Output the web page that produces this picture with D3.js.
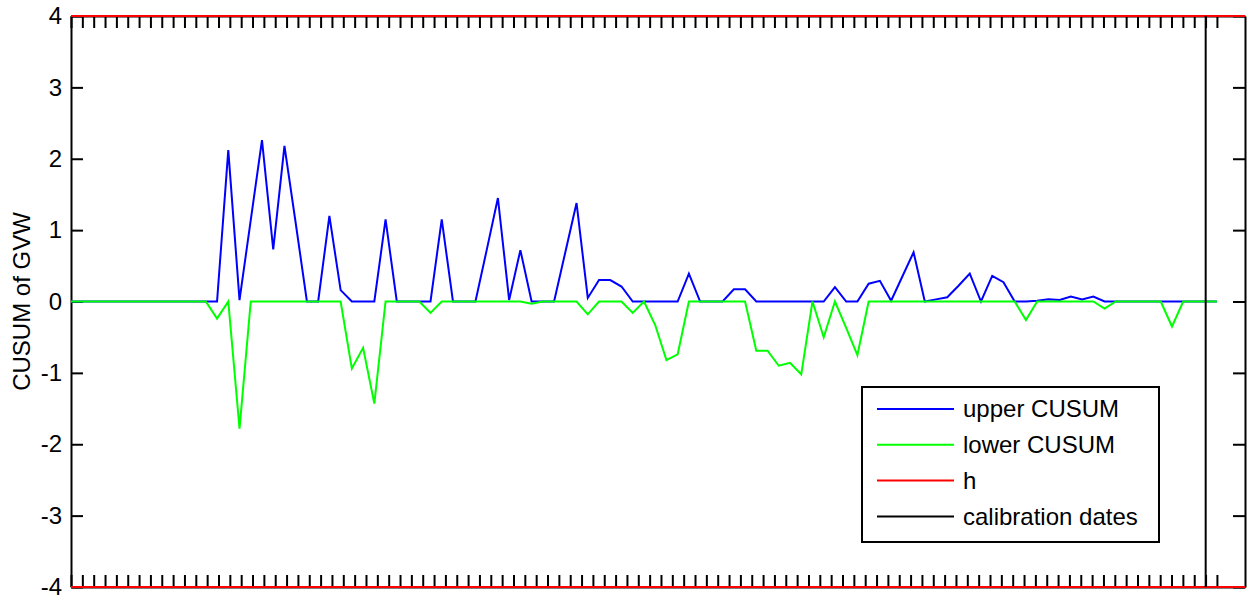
<!DOCTYPE html>
<html>
<head>
<meta charset="utf-8">
<script src="https://cdn.jsdelivr.net/npm/d3@7"></script>
<style>
  body { margin: 0; background: #fff; }
  svg text { font-family: "Liberation Sans", Arial, Helvetica, sans-serif; fill: #000; }
</style>
</head>
<body>
<div id="chart"></div>
<script>
// upper / lower CUSUM, one value per observation (103 observations)
var upper_cusum = [
    0, 0, 0, 0, 0, 0, 0, 0, 0, 0,
    0, 0, 0, 0, 2.12, 0.02, 1.14, 2.26, 0.73, 2.18,
    1.10, 0, 0, 1.20, 0.16, 0, 0, 0, 1.15, 0,
    0, 0, 0, 1.15, 0, 0, 0, 0.72, 1.45, 0.02,
    0.72, 0, 0, 0, 0.69, 1.38, 0.05, 0.30, 0.30, 0.21,
    0, 0, 0, 0, 0, 0.39, 0, 0, 0, 0.17,
    0.17, 0, 0, 0, 0, 0, 0, 0, 0.20, 0,
    0, 0.25, 0.29, 0.01, 0.35, 0.69, 0, 0.03, 0.06, 0.22,
    0.39, 0, 0.36, 0.27, 0, 0, 0.01, 0.03, 0.02, 0.07,
    0.03, 0.07, 0, 0, 0, 0, 0, 0, 0, 0,
    0, 0, 0
];
var lower_cusum = [
    0, 0, 0, 0, 0, 0, 0, 0, 0, 0,
    0, 0, 0, -0.24, 0, -1.78, 0, 0, 0, 0,
    0, 0, 0, 0, 0, -0.94, -0.65, -1.43, 0, 0,
    0, 0, -0.16, 0, 0, 0, 0, 0, 0, 0,
    0, -0.03, 0, 0, 0, 0, -0.18, 0, 0, 0,
    -0.16, 0, -0.33, -0.82, -0.74, 0, 0, 0, 0, 0,
    0, -0.69, -0.69, -0.90, -0.86, -1.02, 0, -0.50, 0, -0.37,
    -0.75, 0, 0, 0, 0, 0, 0, 0, 0, 0,
    0, 0, 0, 0, 0, -0.26, 0, 0, 0, 0,
    0, 0, -0.10, 0, 0, 0, 0, 0, -0.35, 0,
    0, 0, 0
];
var h_level = 4;
var calibration_dates = [101];
var y_ticks = [-4, -3, -2, -1, 0, 1, 2, 3, 4];
var y_tick_labels = ['-4', '-3', '-2', '-1', '0', '1', '2', '3', '4'];
var x_tick_count = 102;
var y_label = 'CUSUM of GVW';
var legend_names = ['upper CUSUM', 'lower CUSUM', 'h', 'calibration dates'];
var legend_colors = ['#0000ff', '#00ff00', '#ff0000', '#000000'];

function cusum_chart() {
    var width = 1249;
    var height = 602;
    var margin = { top: 16, right: 4, bottom: 15, left: 71 };
    var chart_width = width - margin.left - margin.right;
    var chart_height = height - margin.top - margin.bottom;
    var tick_len = 12;
    var font_size = 24;

    var n = upper_cusum.length;
    var last = n - 1;

    var svg = d3.select('#chart')
        .append('svg')
        .attr('width', width)
        .attr('height', height);

    var g = svg.append('g')
        .attr('transform', `translate(${margin.left}, ${margin.top})`);

    var x = d3.scaleLinear()
        .domain([0, 104.5])
        .range([0, chart_width]);

    var y = d3.scaleLinear()
        .domain([-4, 4])
        .range([chart_height, 0]);

    // x ticks are evenly spread over the observation span, no labels
    var x_tick_values = d3.range(x_tick_count).map(function(k) { return k * last / (x_tick_count - 1); });

    function style_axis(sel) {
        sel.select('.domain').attr('stroke', '#000').attr('stroke-width', 2);
        sel.selectAll('.tick line').attr('stroke', '#000').attr('stroke-width', 2);
    }

    g.append('g')
        .attr('transform', `translate(0, ${chart_height})`)
        .call(d3.axisBottom(x).tickValues(x_tick_values).tickSize(-tick_len).tickSizeOuter(0).tickFormat(''))
        .call(style_axis);

    g.append('g')
        .call(d3.axisTop(x).tickValues(x_tick_values).tickSize(-tick_len).tickSizeOuter(0).tickFormat(''))
        .call(style_axis);

    g.append('g')
        .attr('transform', `translate(${chart_width}, 0)`)
        .call(d3.axisRight(y).tickValues(y_ticks).tickSize(-tick_len).tickSizeOuter(0).tickFormat(''))
        .call(style_axis);

    var yaxis = g.append('g')
        .call(d3.axisLeft(y).tickValues(y_ticks).tickSize(-tick_len).tickSizeOuter(0).tickPadding(9)
            .tickFormat(function(d, i) { return y_tick_labels[i]; }))
        .call(style_axis);
    yaxis.selectAll('text')
        .attr('font-size', font_size)
        .attr('font-family', null)
        .attr('fill', '#000');

    g.append('text')
        .attr('transform', `translate(${22 - margin.left}, ${chart_height / 2}) rotate(-90)`)
        .attr('text-anchor', 'middle')
        .attr('dy', '0.35em')
        .attr('font-size', font_size)
        .text(y_label);

    g.append('clipPath')
        .attr('id', 'plot_clip')
        .append('rect')
        .attr('x', 0)
        .attr('y', -2)
        .attr('width', chart_width)
        .attr('height', chart_height + 4);

    var plot = g.append('g').attr('clip-path', 'url(#plot_clip)');

    var line = d3.line()
        .x(function(d, i) { return x(i); })
        .y(function(d) { return y(d); });

    plot.append('path')
        .datum(upper_cusum)
        .attr('d', line)
        .attr('fill', 'none')
        .attr('stroke', legend_colors[0])
        .attr('stroke-width', 2);

    plot.append('path')
        .datum(lower_cusum)
        .attr('d', line)
        .attr('fill', 'none')
        .attr('stroke', legend_colors[1])
        .attr('stroke-width', 2);

    plot.selectAll('line.h')
        .data([h_level, -h_level])
        .enter()
        .append('line')
        .attr('class', 'h')
        .attr('x1', x(0))
        .attr('x2', x(104.5))
        .attr('y1', function(d) { return y(d); })
        .attr('y2', function(d) { return y(d); })
        .attr('stroke', legend_colors[2])
        .attr('stroke-width', 2);

    plot.selectAll('line.calib')
        .data(calibration_dates)
        .enter()
        .append('line')
        .attr('class', 'calib')
        .attr('x1', function(d) { return x(d); })
        .attr('x2', function(d) { return x(d); })
        .attr('y1', y(-h_level))
        .attr('y2', y(h_level))
        .attr('stroke', legend_colors[3])
        .attr('stroke-width', 2);

    // legend
    var legend = svg.append('g')
        .attr('transform', 'translate(862, 387)');

    legend.append('rect')
        .attr('width', 297)
        .attr('height', 155)
        .attr('fill', '#fff')
        .attr('stroke', '#000')
        .attr('stroke-width', 2);

    var rows = legend.selectAll('g.row')
        .data(legend_names)
        .enter()
        .append('g')
        .attr('class', 'row')
        .attr('transform', function(d, i) { return `translate(0, ${22 + i * 35.8})`; });

    rows.append('line')
        .attr('x1', 15)
        .attr('x2', 92)
        .attr('stroke', function(d, i) { return legend_colors[i]; })
        .attr('stroke-width', 2);

    rows.append('text')
        .attr('x', 101)
        .attr('dy', '0.35em')
        .attr('font-size', font_size)
        .text(function(d) { return d; });
}

cusum_chart();
</script>
</body>
</html>
